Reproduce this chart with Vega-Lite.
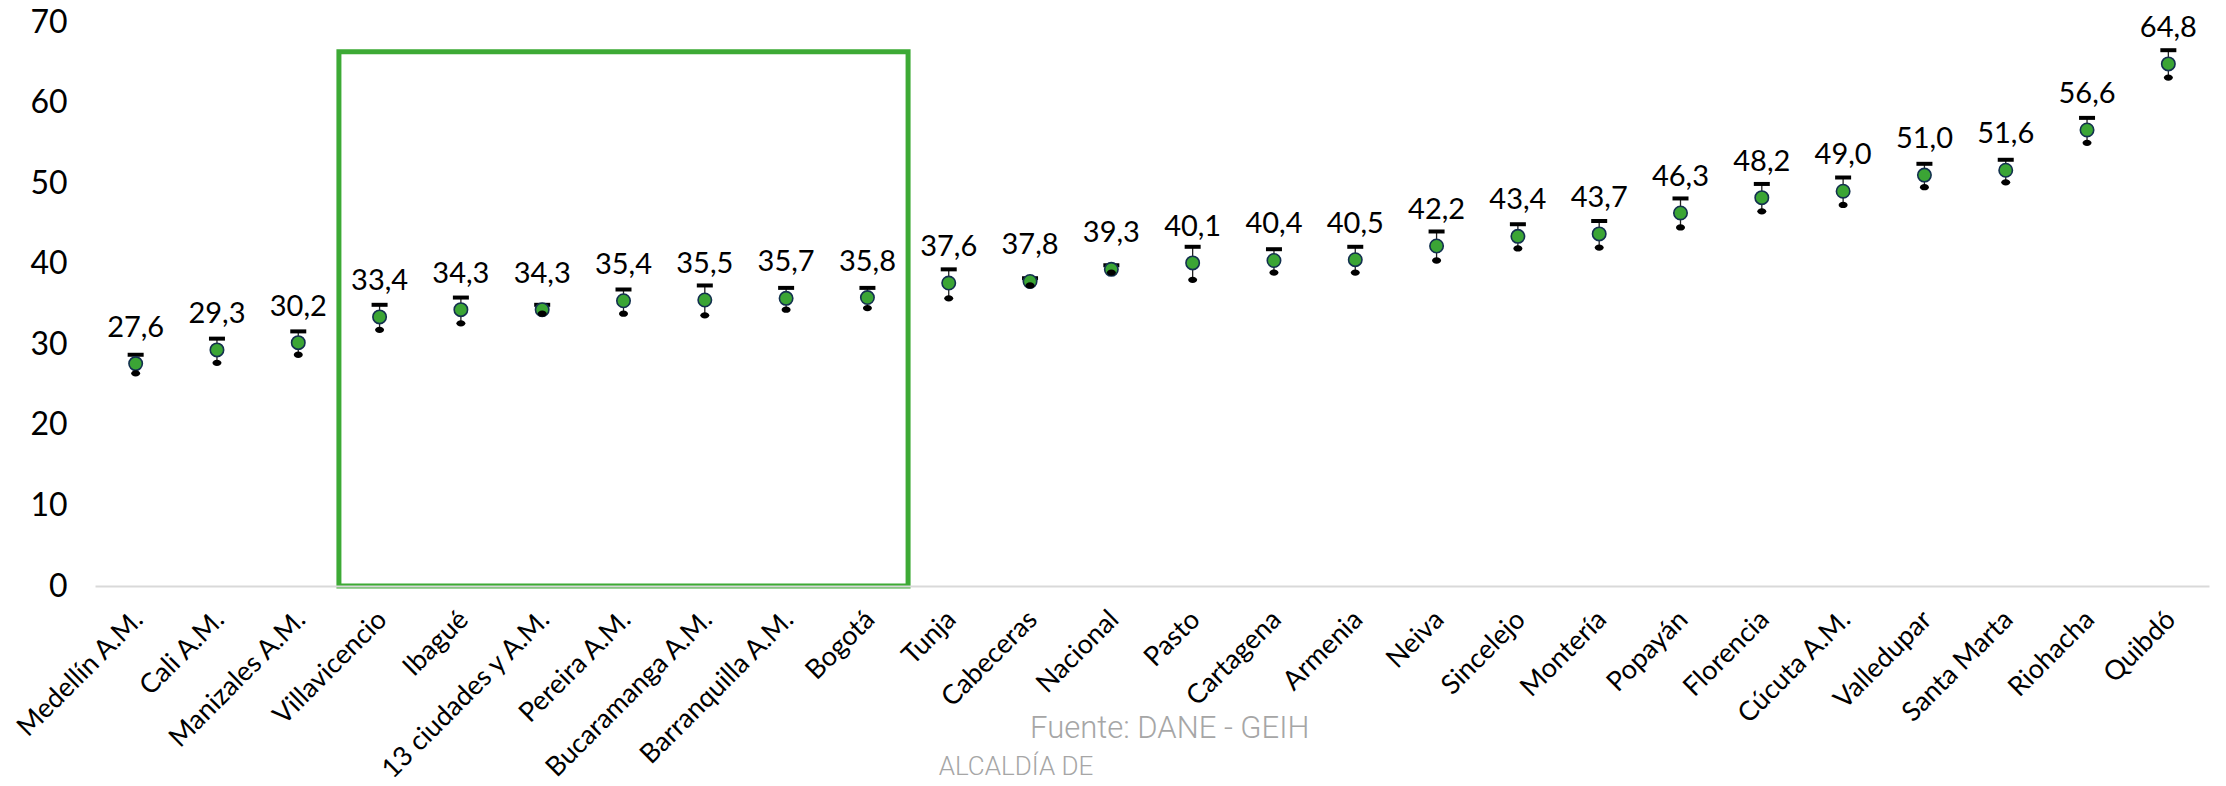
{
  "$schema": "https://vega.github.io/schema/vega-lite/v6.json",
  "width": 2114,
  "height": 564,
  "autosize": "none",
  "padding": {"left": 95, "top": 22, "right": 17, "bottom": 200},
  "background": "white",
  "config": {
    "view": {"stroke": null},
    "font": "Lato"
  },
  "datasets": {
    "cities": [
      {"city": "Medellín A.M.", "v": 27.6, "lo": 26.4, "hi": 28.7, "label": "27,6"},
      {"city": "Cali A.M.", "v": 29.3, "lo": 27.7, "hi": 30.7, "label": "29,3"},
      {"city": "Manizales A.M.", "v": 30.2, "lo": 28.7, "hi": 31.6, "label": "30,2"},
      {"city": "Villavicencio", "v": 33.4, "lo": 31.8, "hi": 34.9, "label": "33,4"},
      {"city": "Ibagué", "v": 34.3, "lo": 32.6, "hi": 35.8, "label": "34,3"},
      {"city": "13 ciudades y A.M.", "v": 34.3, "lo": 33.8, "hi": 34.9, "label": "34,3"},
      {"city": "Pereira A.M.", "v": 35.4, "lo": 33.8, "hi": 36.8, "label": "35,4"},
      {"city": "Bucaramanga A.M.", "v": 35.5, "lo": 33.6, "hi": 37.3, "label": "35,5"},
      {"city": "Barranquilla A.M.", "v": 35.7, "lo": 34.3, "hi": 37.0, "label": "35,7"},
      {"city": "Bogotá", "v": 35.8, "lo": 34.5, "hi": 37.0, "label": "35,8"},
      {"city": "Tunja", "v": 37.6, "lo": 35.7, "hi": 39.3, "label": "37,6"},
      {"city": "Cabeceras", "v": 37.8, "lo": 37.3, "hi": 38.2, "label": "37,8"},
      {"city": "Nacional", "v": 39.3, "lo": 38.9, "hi": 39.8, "label": "39,3"},
      {"city": "Pasto", "v": 40.1, "lo": 38.0, "hi": 42.1, "label": "40,1"},
      {"city": "Cartagena", "v": 40.4, "lo": 38.9, "hi": 41.8, "label": "40,4"},
      {"city": "Armenia", "v": 40.5, "lo": 38.9, "hi": 42.1, "label": "40,5"},
      {"city": "Neiva", "v": 42.2, "lo": 40.4, "hi": 44.0, "label": "42,2"},
      {"city": "Sincelejo", "v": 43.4, "lo": 41.9, "hi": 44.9, "label": "43,4"},
      {"city": "Montería", "v": 43.7, "lo": 42.0, "hi": 45.3, "label": "43,7"},
      {"city": "Popayán", "v": 46.3, "lo": 44.5, "hi": 48.1, "label": "46,3"},
      {"city": "Florencia", "v": 48.2, "lo": 46.5, "hi": 49.9, "label": "48,2"},
      {"city": "Cúcuta A.M.", "v": 49.0, "lo": 47.3, "hi": 50.7, "label": "49,0"},
      {"city": "Valledupar", "v": 51.0, "lo": 49.5, "hi": 52.4, "label": "51,0"},
      {"city": "Santa Marta", "v": 51.6, "lo": 50.1, "hi": 52.9, "label": "51,6"},
      {"city": "Riohacha", "v": 56.6, "lo": 55.0, "hi": 58.1, "label": "56,6"},
      {"city": "Quibdó", "v": 64.8, "lo": 63.1, "hi": 66.5, "label": "64,8"}
    ]
  },
  "encoding": {
    "x": {
      "field": "city",
      "type": "nominal",
      "sort": null,
      "title": null,
      "scale": {
        "type": "band",
        "paddingInner": 0,
        "paddingOuter": 0,
        "domain": ["Medellín A.M.", "Cali A.M.", "Manizales A.M.", "Villavicencio", "Ibagué", "13 ciudades y A.M.", "Pereira A.M.", "Bucaramanga A.M.", "Barranquilla A.M.", "Bogotá", "Tunja", "Cabeceras", "Nacional", "Pasto", "Cartagena", "Armenia", "Neiva", "Sincelejo", "Montería", "Popayán", "Florencia", "Cúcuta A.M.", "Valledupar", "Santa Marta", "Riohacha", "Quibdó"]
      },
      "axis": {
        "labelAngle": -45,
        "labelFontSize": 27,
        "labelFont": "Lato",
        "labelColor": "#000000",
        "labelLimit": 0,
        "ticks": false,
        "domainColor": "#d9d9d9",
        "domainWidth": 2,
        "labelPadding": 20,
        "labelOffset": -6,
        "grid": false
      }
    }
  },
  "layer": [
    {
      "data": {"values": [{"start": "Villavicencio", "end": "Bogotá", "top": 66.3, "bottom": 0}]},
      "mark": {"type": "rect", "fill": null, "fillOpacity": 0, "stroke": "#3daa35", "strokeWidth": 5},
      "encoding": {
        "x": {"field": "start", "type": "nominal", "bandPosition": 0},
        "x2": {"field": "end", "bandPosition": 1},
        "y": {"field": "top", "type": "quantitative"},
        "y2": {"field": "bottom"}
      }
    },
    {
      "data": {"name": "cities"},
      "mark": {"type": "rule", "color": "#222222", "strokeWidth": 1.3, "opacity": 1},
      "encoding": {
        "y": {
          "field": "lo",
          "type": "quantitative",
          "title": null,
          "scale": {"domain": [0, 70], "nice": false, "zero": true},
          "axis": {
            "values": [0, 10, 20, 30, 40, 50, 60, 70],
            "labelFontSize": 32,
            "labelFont": "Lato",
            "labelColor": "#000000",
            "ticks": false,
            "domain": false,
            "grid": false,
            "labelPadding": 28
          }
        },
        "y2": {"field": "hi"}
      }
    },
    {
      "data": {"name": "cities"},
      "mark": {"type": "tick", "orient": "horizontal", "color": "#000000", "size": 16, "thickness": 4, "opacity": 1},
      "encoding": {
        "y": {"field": "hi", "type": "quantitative"}
      }
    },
    {
      "data": {"name": "cities"},
      "mark": {"type": "point", "shape": "circle", "filled": true, "fill": "#3ba535", "stroke": "#13304f", "strokeWidth": 1.6, "size": 180, "opacity": 1},
      "encoding": {
        "y": {"field": "v", "type": "quantitative"}
      }
    },
    {
      "data": {"name": "cities"},
      "mark": {"type": "point", "shape": "M -1 0 A 1 0.7 0 1 0 1 0 A 1 0.7 0 1 0 -1 0 Z", "filled": true, "fill": "#000000", "strokeWidth": 0, "size": 81, "opacity": 1},
      "encoding": {
        "y": {"field": "lo", "type": "quantitative"}
      }
    },
    {
      "data": {"name": "cities"},
      "mark": {"type": "text", "font": "Lato", "fontSize": 29, "color": "#000000", "baseline": "middle", "align": "center", "dy": -36},
      "encoding": {
        "y": {"field": "v", "type": "quantitative"},
        "text": {"field": "label"}
      }
    },
    {
      "data": {"values": [{"note": "Fuente: DANE - GEIH", "pos": "Cabeceras", "yv": -17.8}]},
      "mark": {"type": "text", "font": "Roboto", "fontWeight": 300, "fontSize": 31, "color": "#a6a6a6", "align": "left", "baseline": "middle"},
      "encoding": {
        "x": {"field": "pos", "type": "nominal"},
        "y": {"field": "yv", "type": "quantitative"},
        "text": {"field": "note"}
      }
    },
    {
      "data": {"values": [{"note": "ALCALDÍA DE", "pos": "Tunja", "yv": -23.4}]},
      "mark": {"type": "text", "font": "Roboto", "fontWeight": 300, "fontSize": 26, "color": "#a6a6a6", "align": "left", "baseline": "alphabetic", "dx": -10},
      "encoding": {
        "x": {"field": "pos", "type": "nominal"},
        "y": {"field": "yv", "type": "quantitative"},
        "text": {"field": "note"}
      }
    }
  ]
}
